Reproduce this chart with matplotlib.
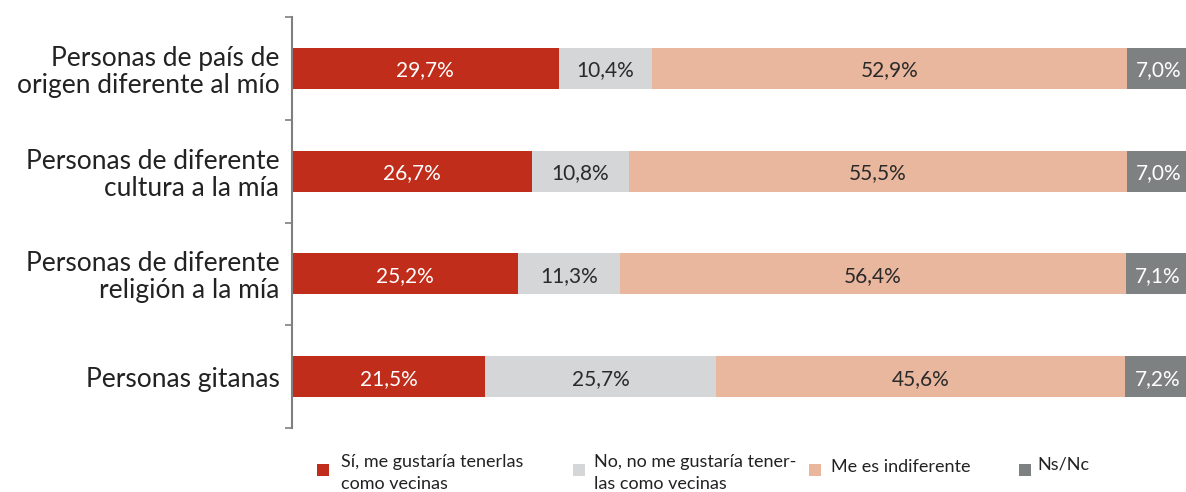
import matplotlib
matplotlib.use("Agg")
import matplotlib.pyplot as plt
from matplotlib.patches import Rectangle

plt.rcParams['font.family'] = ['Lato', 'DejaVu Sans']

categories = [
    "Personas de país de\norigen diferente al mío",
    "Personas de diferente\ncultura a la mía",
    "Personas de diferente\nreligión a la mía",
    "Personas gitanas",
]
series_names = [
    "Sí, me gustaría tenerlas\ncomo vecinas",
    "No, no me gustaría tener-\nlas como vecinas",
    "Me es indiferente",
    "Ns/Nc",
]
si_vals = [29.7, 26.7, 25.2, 21.5]
no_vals = [10.4, 10.8, 11.3, 25.7]
indif_vals = [52.9, 55.5, 56.4, 45.6]
nsnc_vals = [7.0, 7.0, 7.1, 7.2]

series = [si_vals, no_vals, indif_vals, nsnc_vals]
colors = ["#C02D1A", "#D5D6D8", "#E9B79D", "#7E8182"]
text_colors = ["white", "#2a2a2a", "#2a2a2a", "white"]

W, H = 1186, 492
fig = plt.figure(figsize=(W / 100, H / 100), dpi=100)
ax = fig.add_axes([292 / W, 1 - 428 / H, 898 / W, 411 / H])

y = list(range(len(categories)))
left = [0.0] * len(categories)
for vals, col, tcol in zip(series, colors, text_colors):
    ax.barh(y, vals, left=left, height=0.4, color=col, edgecolor='none')
    for yi, l, v in zip(y, left, vals):
        ax.text(l + v / 2, yi + 0.02, f"{v:.1f}%".replace(".", ","), ha='center', va='center',
                color=tcol, fontsize=15)
    left = [a + b for a, b in zip(left, vals)]

ax.set_xlim(0, 100)
ax.set_ylim(3.5, -0.5)
ax.set_yticks(y)
ax.set_yticklabels(categories, fontsize=19, color='#222222', linespacing=1.1)
ax.set_yticks([-0.5, 0.5, 1.5, 2.5, 3.5], minor=True)
ax.tick_params(axis='y', which='major', length=0, pad=9)
ax.tick_params(axis='y', which='minor', length=5, width=1.2, color='#7F7F7F')
ax.set_xticks([])
for s in ['top', 'right', 'bottom']:
    ax.spines[s].set_visible(False)
ax.spines['left'].set_color('#7F7F7F')
ax.spines['left'].set_linewidth(1.5)

# legend
leg_sq_x = [317, 573, 809, 1019]
leg_txt_x = [341, 594, 831, 1037]
leg_txt_y = [473, 473, 467, 465]
for name, col, sx, tx, ty in zip(series_names, colors, leg_sq_x, leg_txt_x, leg_txt_y):
    fig.patches.append(Rectangle((sx / W, 1 - 476 / H), 12 / W, 12 / H,
                                 transform=fig.transFigure, facecolor=col,
                                 edgecolor='none'))
    fig.text(tx / W, 1 - ty / H, name, ha='left', va='center', fontsize=13,
             color='#222222', linespacing=1.45)

fig.savefig("out.png", dpi=100)
